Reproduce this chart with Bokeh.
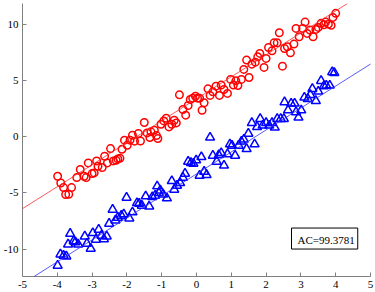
from bokeh.plotting import figure
from bokeh.models import Slope, Label, FixedTicker, Range1d
from bokeh.embed import file_html
from bokeh.resources import INLINE

# ---- data ----
red_x = [-3.99, -3.90, -3.82, -3.76, -3.67, -3.59, -3.44, -3.34, -3.23, -3.17,
         -3.11, -3.00, -2.94, -2.87, -2.83, -2.71, -2.64, -2.56, -2.47, -2.39,
         -2.31, -2.26, -2.20, -2.14, -2.07, -1.99, -1.91, -1.84, -1.78, -1.67,
         -1.61, -1.50, -1.42, -1.34, -1.31, -1.21, -1.15, -1.11, -1.02,
         -0.94, -0.87, -0.79, -0.71, -0.64, -0.58, -0.49, -0.39, -0.31, -0.24,
         -0.18, -0.11, -0.03, 0.03, 0.09, 0.16, 0.22, 0.33, 0.39, 0.47,
         0.56, 0.66, 0.71, 0.79, 0.89, 0.98, 1.06, 1.13, 1.19, 1.29,
         1.36, 1.44, 1.51, 1.59, 1.69, 1.76, 1.82,
         1.94, 2.00, 2.07, 2.17, 2.23, 2.32, 2.38, 2.47, 2.53, 2.61,
         2.70, 2.80, 2.86, 2.95, 3.05, 3.12, 3.18, 3.26, 3.35, 3.43,
         3.50, 3.58, 3.66, 3.71, 3.79, 3.87, 3.92, 4.00]
red_y = [-3.51, -4.11, -4.52, -5.14, -5.12, -4.52, -3.63, -2.91, -3.51, -3.63,
         -2.32, -3.27, -3.21, -2.14, -2.62, -2.73, -1.72, -2.32, -1.04, -2.14,
         -2.08, -1.96, -1.90, -1.10, -0.29, -0.74, -0.29, 0.15, -0.38, 0.30,
         -0.36, 1.29, 0.36, -0.05, 0.45, 0.60, 0.12, -0.14, 1.13,
         1.43, 1.67, 0.89, 1.13, 1.49, 1.25, 3.75, 2.45, 1.94, 2.80,
         3.34, 3.46, 3.63, 3.46, 3.46, 2.38, 3.04, 4.29, 3.70, 4.02,
         4.53, 3.70, 4.62, 4.23, 3.88, 5.13, 4.62, 5.00, 4.59, 5.13,
         6.02, 6.85, 5.30, 6.49, 6.67, 7.14, 7.45,
         6.20, 7.00, 7.98, 7.68, 8.39, 8.39, 9.29, 6.31, 7.89, 8.04,
         7.50, 8.28, 9.68, 8.93, 9.68, 10.24, 9.23, 9.53, 8.93, 9.59,
         9.77, 10.13, 10.00, 10.24, 10.06, 9.95, 10.66, 11.02]

blue_x = [-3.99, -3.91, -3.82, -3.74, -3.69, -3.63, -3.53, -3.48, -3.40, -3.21,
          -3.15, -3.04, -2.98, -2.89, -2.81, -2.73, -2.66, -2.58, -2.51, -2.41,
          -2.33, -2.26, -2.16, -2.09, -2.01, -1.93, -1.84, -1.71, -1.65, -1.57,
          -1.46, -1.36, -1.27, -1.19, -1.13, -1.08,
          -1.04, -0.96, -0.85, -0.71, -0.64, -0.56, -0.47, -0.39, -0.33, -0.24,
          -0.16, -0.09, -0.01, 0.09, 0.14, 0.22, 0.29, 0.39, 0.47, 0.58,
          0.64, 0.71, 0.79, 0.89, 0.96, 1.02, 1.11, 1.21, 1.29, 1.36,
          1.44, 1.49, 1.59, 1.67, 1.74,
          1.83, 1.90, 2.00, 2.09, 2.17, 2.25, 2.32, 2.42, 2.51, 2.53,
          2.63, 2.72, 2.82, 2.86, 2.93, 3.01, 3.10, 3.20, 3.27, 3.33,
          3.43, 3.50, 3.58, 3.66, 3.73, 3.83, 3.90, 3.96]
blue_y = [-11.48, -10.47, -10.59, -10.65, -9.58, -8.63, -9.29, -9.38, -9.58, -8.87,
          -9.52, -9.96, -8.57, -9.16, -8.27, -8.80, -9.11, -8.87, -7.73, -6.48,
          -7.44, -7.20, -7.02, -6.90, -5.41, -7.26, -6.72, -5.89, -5.95, -6.13,
          -5.29, -6.19, -5.36, -5.23, -4.40, -5.00,
          -4.76, -5.12, -5.47, -3.93, -4.70, -4.34, -4.11, -3.63, -3.27, -2.20,
          -2.32, -2.38, -2.08, -3.45, -1.79, -3.09, -3.39, -0.05, -1.66, -2.20,
          -1.61, -1.43, -2.55, -1.54, -0.65, -0.77, -1.66, -0.77, -0.41, -0.23,
          -1.07, 0.30, 1.25, -0.65, 0.89,
          1.61, 1.02, 1.25, 1.02, 1.25, 0.84, 1.61, 1.61, 1.61, 3.10,
          2.38, 2.98, 2.98, 2.21, 1.73, 2.38, 3.52, 3.39, 3.75, 4.29,
          3.21, 4.05, 5.00, 4.53, 4.59, 4.59, 5.78, 5.71]

fit_slope = 1.96
red_intercept = 3.4
blue_intercept = -3.3

x_ticks = [-5, -4, -3, -2, -1, 0, 1, 2, 3, 4, 5]
y_ticks = [-10, -5, 0, 5, 10]
ac_text = "AC=99.3781"

# ---- figure ----
p = figure(width=375, height=292, output_backend="svg", toolbar_location=None,
           x_range=Range1d(-5, 5), y_range=Range1d(-12.45, 11.9),
           min_border_left=21, min_border_right=5, min_border_top=3,
           min_border_bottom=16)
p.grid.visible = False
p.outline_line_color = None
p.background_fill_color = "white"
p.border_fill_color = "white"

for ax, ticks in ((p.xaxis, x_ticks), (p.yaxis, y_ticks)):
    ax.ticker = FixedTicker(ticks=ticks)
    ax.major_label_overrides = {t: str(t) for t in ticks}
    ax.axis_line_color = "#808080"
    ax.major_tick_line_color = "#808080"
    ax.major_tick_in = 4
    ax.major_tick_out = 0
    ax.minor_tick_line_color = None
    ax.major_label_text_font = "Liberation Serif"
    ax.major_label_text_font_size = "11px"
    ax.major_label_text_color = "black"
    ax.major_label_standoff = 4

p.add_layout(Slope(gradient=fit_slope, y_intercept=red_intercept,
                   line_color="#ff3030", line_width=0.8))
p.add_layout(Slope(gradient=fit_slope, y_intercept=blue_intercept,
                   line_color="#3030ff", line_width=0.8))

p.scatter(red_x, red_y, marker="circle", size=7.5, fill_color=None,
          line_color="red", line_width=1.5)
p.scatter(blue_x, blue_y, marker="triangle", size=9, fill_color=None,
          line_color="blue", line_width=1.5)

lab = Label(x=2.73, y=-10.0, text=ac_text, text_font="Liberation Serif",
            text_font_size="11px", text_color="black",
            border_line_color="black", border_line_width=1,
            background_fill_color="white", padding=(6, 3, 6, 3))
p.add_layout(lab)

open("out.html", "w").write(file_html(p, INLINE))
